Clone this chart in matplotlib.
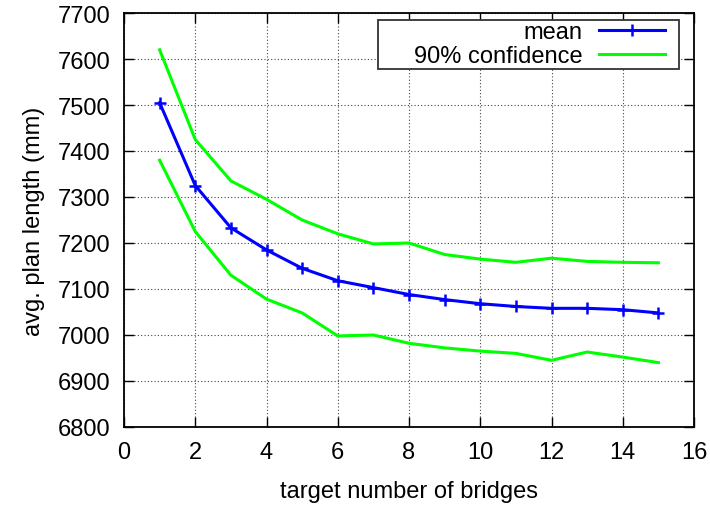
import matplotlib.pyplot as plt
from matplotlib.patches import Rectangle

bridges = list(range(1, 16))
mean_len = [7505, 7325, 7233, 7185, 7145, 7118, 7103, 7088, 7077, 7068, 7062, 7058, 7058, 7055, 7048]
upper_len = [7620, 7425, 7335, 7295, 7250, 7220, 7198, 7200, 7175, 7165, 7158, 7167, 7160, 7158, 7157]
lower_len = [7380, 7225, 7130, 7078, 7048, 6998, 7000, 6982, 6972, 6965, 6960, 6945, 6963, 6952, 6940]

plt.rcParams['font.family'] = ['Liberation Sans', 'DejaVu Sans']
fs = 17
W, H = 710, 506

fig = plt.figure(figsize=(7.1, 5.06), dpi=100)
# axes box in pixels: left 124, right 694, top 14, bottom 428
ax = fig.add_axes([124 / W, (H - 428) / H, 570 / W, 414 / H])

ax.plot(bridges, mean_len, color='#0000ff', lw=2.2, marker='+', ms=8, mew=1.8, label='mean')
ax.plot(bridges, upper_len, color='#00ff00', lw=2.2, label='90% confidence')
ax.plot(bridges, lower_len, color='#00ff00', lw=2.2)

ax.set_xlim(0, 16)
ax.set_ylim(6800, 7700)
ax.set_xticks(range(0, 17, 2))
ax.set_yticks(range(6800, 7701, 100))
ax.grid(True, color='#444444', ls=(0, (1, 2)), lw=0.8)
ax.tick_params(direction='in', top=True, right=True, length=7, width=1, labelsize=fs, pad=10)
for s in ax.spines.values():
    s.set_linewidth(1.3)

ax.set_xlabel('target number of bridges', fontsize=fs, labelpad=12)
ax.set_ylabel('avg. plan length (mm)', fontsize=fs, labelpad=9)

# gnuplot style key box
box = Rectangle((378 / W, (H - 70) / H), 301 / W, 49 / H, transform=fig.transFigure,
                facecolor='white', edgecolor='#333333', lw=1.3, zorder=4.5)
ax.add_patch(box)

leg = ax.legend(loc='upper right', bbox_to_anchor=((665 - 124) / 570, (428 - 22) / 414),
                markerfirst=False, fontsize=fs, frameon=False,
                handlelength=2.8, handletextpad=0.7,
                borderaxespad=0, borderpad=0, labelspacing=0.08)
leg.set_zorder(5)
for t in leg.get_texts():
    t.set_ha('right')

fig.savefig('out.png', dpi=100)
